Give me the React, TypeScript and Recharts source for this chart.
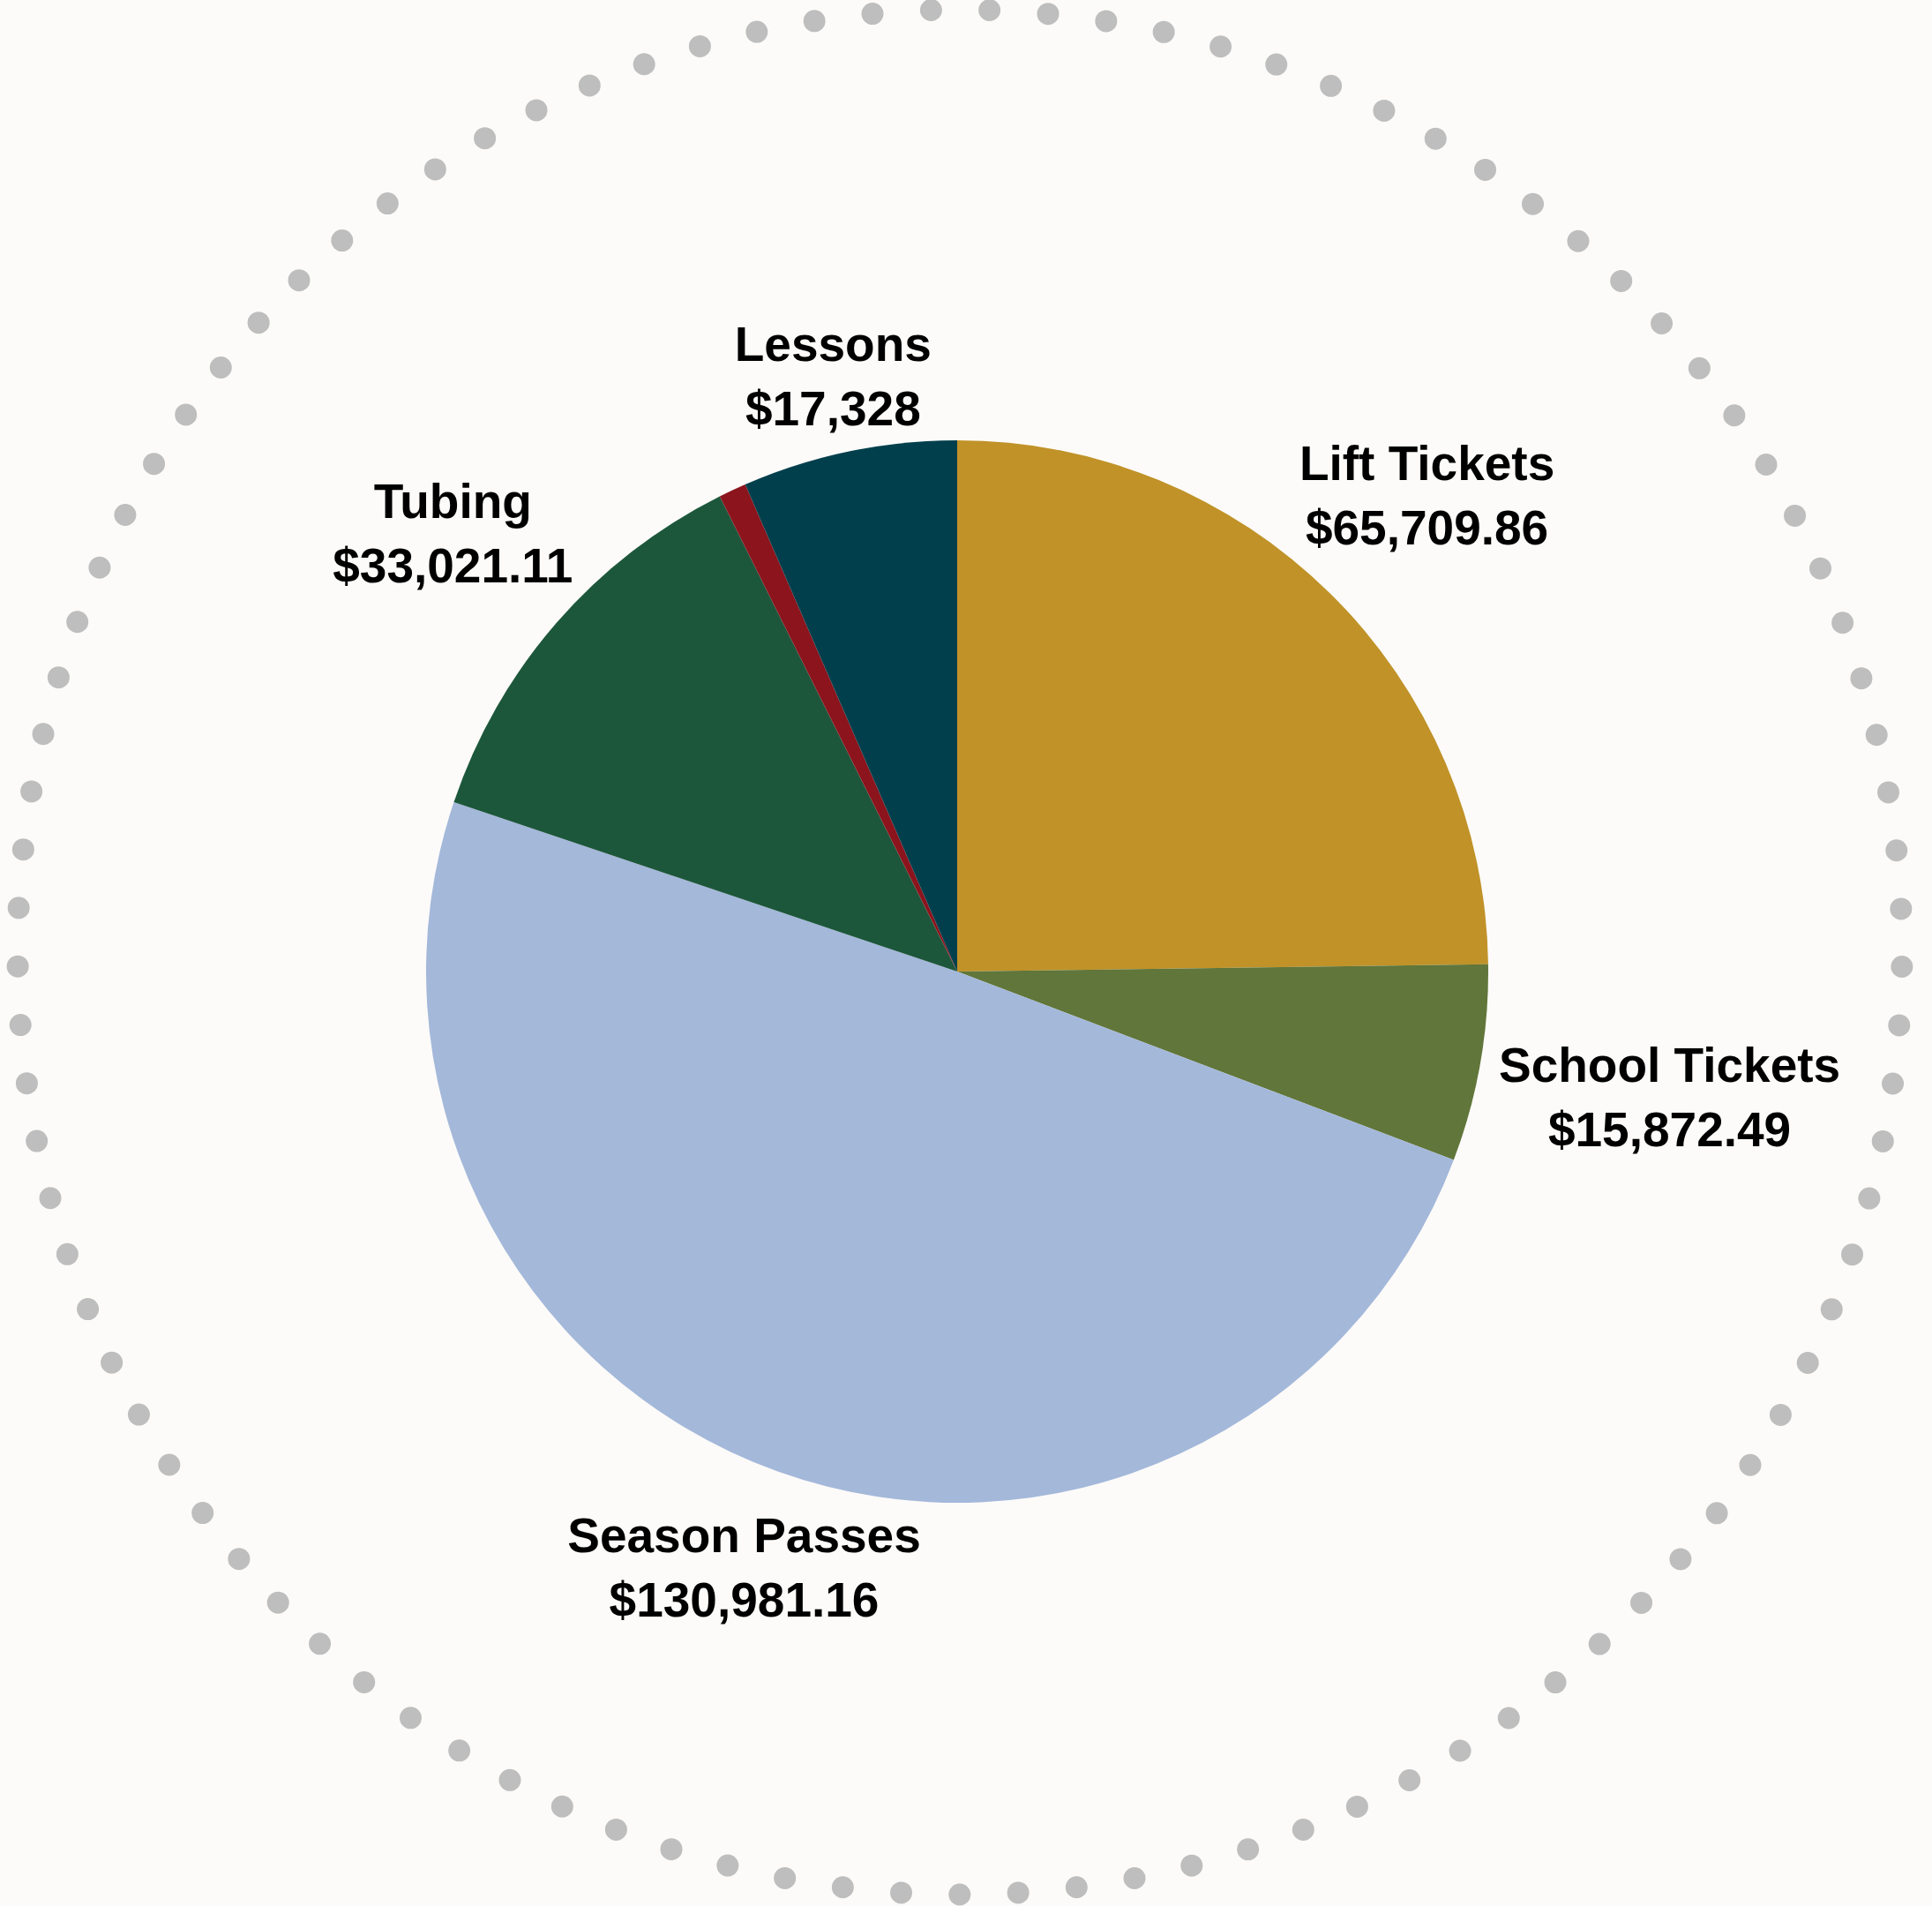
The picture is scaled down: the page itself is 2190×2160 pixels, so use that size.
import { PieChart, Pie, Cell, Customized } from 'recharts';

const categories = ['Lift Tickets', 'School Tickets', 'Season Passes', 'Tubing', '', 'Lessons'];
const revenue = [65709.86, 15872.49, 130981.16, 33021.11, 2230, 17328];
const sliceColors = ['#C09228', '#61763A', '#A4B8DA', '#1D573B', '#8C141D', '#023F4C'];

const data = categories.map((name, i) => ({ name, value: revenue[i] }));

const WIDTH = 2190;
const HEIGHT = 2160;
const PIE_CX = 1085;
const PIE_CY = 1101;
const PIE_R = 602;
const RING_CX = 1088;
const RING_CY = 1079;
const RING_R = 1068;
const RING_DOTS = 101;

const FONT_SIZE = 55;
const LINE_HEIGHT = 73;
const CAP_HEIGHT = FONT_SIZE * 0.716;
const LABEL_GAP = 18;
const FONT_FAMILY = '"Liberation Sans", Arial, sans-serif';
const RAD = Math.PI / 180;

let ctx: CanvasRenderingContext2D | null = null;
function textWidth(text: string): number {
  if (!ctx && typeof document !== 'undefined') {
    ctx = document.createElement('canvas').getContext('2d');
  }
  if (ctx) {
    ctx.font = `bold ${FONT_SIZE}px ${FONT_FAMILY}`;
    return ctx.measureText(text).width;
  }
  return text.length * FONT_SIZE * 0.56;
}

function formatMoney(v: number): string {
  const decimals = Number.isInteger(v) ? 0 : 2;
  return '$' + v.toLocaleString('en-US', { minimumFractionDigits: decimals, maximumFractionDigits: decimals });
}

// push the label box out along the mid angle until it clears the pie by LABEL_GAP
function renderLabel(props: any) {
  const { cx, cy, midAngle, outerRadius, name, value } = props;
  if (!name) return null;
  const valueText = formatMoney(value);
  const hw = Math.max(textWidth(name), textWidth(valueText)) / 2;
  const hh = (CAP_HEIGHT + LINE_HEIGHT) / 2;
  const ux = Math.cos(-midAngle * RAD);
  const uy = Math.sin(-midAngle * RAD);
  const target = outerRadius + LABEL_GAP;
  const clearance = (d: number) => {
    const ex = Math.max(Math.abs(d * ux) - hw, 0);
    const ey = Math.max(Math.abs(d * uy) - hh, 0);
    return Math.hypot(ex, ey);
  };
  let lo = 0;
  let hi = outerRadius * 3;
  for (let i = 0; i < 50; i++) {
    const mid = (lo + hi) / 2;
    if (clearance(mid) < target) lo = mid;
    else hi = mid;
  }
  const x = cx + hi * ux;
  const y = cy + hi * uy;
  const top = y - hh;
  return (
    <text
      x={x}
      y={top + CAP_HEIGHT}
      textAnchor="middle"
      fill="#000000"
      fontFamily={FONT_FAMILY}
      fontWeight="bold"
      fontSize={FONT_SIZE}
    >
      <tspan x={x} y={top + CAP_HEIGHT}>{name}</tspan>
      <tspan x={x} y={top + CAP_HEIGHT + LINE_HEIGHT}>{valueText}</tspan>
    </text>
  );
}

// dotted ring: zero-length dashes with round caps, one dot sitting at the bottom
function DotRing() {
  const circ = 2 * Math.PI * RING_R;
  const step = circ / RING_DOTS;
  return (
    <circle
      cx={RING_CX}
      cy={RING_CY}
      r={RING_R}
      fill="none"
      stroke="#BEBEBE"
      strokeWidth={25}
      strokeLinecap="round"
      strokeDasharray={`0 ${step}`}
      strokeDashoffset={step * 0.75}
    />
  );
}

export default function App() {
  return (
    <div
      style={{
        position: 'absolute',
        left: 0,
        top: 0,
        width: WIDTH,
        height: HEIGHT,
        background: '#FCFBF9',
      }}
    >
      <PieChart width={WIDTH} height={HEIGHT} margin={{ top: 0, right: 0, bottom: 0, left: 0 }}>
        <Customized component={DotRing} />
        <Pie
          data={data}
          dataKey="value"
          nameKey="name"
          cx={PIE_CX}
          cy={PIE_CY}
          outerRadius={PIE_R}
          startAngle={90}
          endAngle={-270}
          stroke="none"
          label={renderLabel}
          labelLine={false}
          isAnimationActive={false}
        >
          {data.map((_, i) => (
            <Cell key={i} fill={sliceColors[i]} />
          ))}
        </Pie>
      </PieChart>
    </div>
  );
}
